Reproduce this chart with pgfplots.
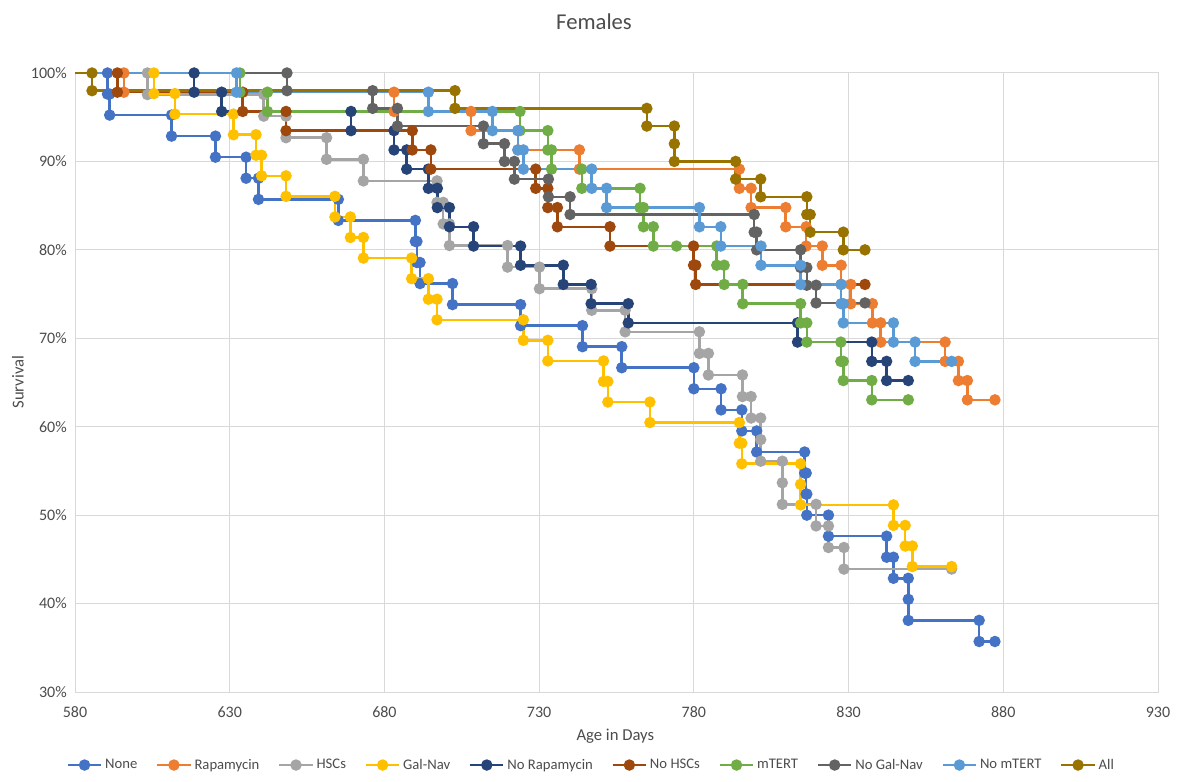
\documentclass[border=0pt]{standalone}
\usepackage{fontspec}
\setmainfont{Carlito}
\usepackage{pgfplots}
\pgfplotsset{compat=1.18}
\definecolor{cNone}{HTML}{4472C4}
\definecolor{cRapa}{HTML}{ED7D31}
\definecolor{cHSC}{HTML}{A5A5A5}
\definecolor{cGal}{HTML}{FFC000}
\definecolor{cNoRapa}{HTML}{264478}
\definecolor{cNoHSC}{HTML}{9E480E}
\definecolor{cTERT}{HTML}{70AD47}
\definecolor{cNoGal}{HTML}{636363}
\definecolor{cNoTERT}{HTML}{5B9BD5}
\definecolor{cAll}{HTML}{997300}
\definecolor{gridc}{HTML}{D9D9D9}
\begin{document}
\begin{tikzpicture}
\useasboundingbox (0bp,0bp) rectangle (900bp,586.5bp);
\node[font=\fontsize{17bp}{20bp}\selectfont, text=black!70] at (445.5bp,570bp) {Females};
\node[font=\fontsize{12.5bp}{15bp}\selectfont, text=black!70] at (461.5bp,34.5bp) {Age in Days};
\node[font=\fontsize{12.5bp}{15bp}\selectfont, text=black!70, rotate=90] at (13.5bp,300bp) {Survival};
\begin{axis}[
  at={(56.25bp,67.5bp)}, anchor=south west,
  scale only axis, width=812.25bp, height=464.25bp,
  xmin=580, xmax=930, ymin=30, ymax=100,
  clip=false,
  xtick={580,630,...,930}, ytick={30,40,...,100},
  /pgf/number format/assume math mode=true,
  xticklabel={\pgfmathprintnumber[fixed,precision=0]{\tick}},
  yticklabel={\pgfmathprintnumber[fixed,precision=0]{\tick}\%},
  ticklabel style={font=\fontsize{12bp}{14bp}\selectfont, text=black!70},
  yticklabel style={anchor=east, inner sep=0pt, xshift=-6bp},
  xticklabel style={anchor=north, inner sep=0pt, yshift=-11bp},
  grid=major, grid style={draw=gridc, line width=0.75bp},
  axis line style={draw=gridc, line width=0.75bp},
  major tick length=0pt,
  every axis plot/.append style={line width=1.9bp, mark=*, mark size=3.3bp, mark repeat=1, mark phase=2},
  legend columns=10,
  legend style={at={(axis description cs:0.477,-0.118)}, anchor=center, draw=none, fill=none,
    font=\fontsize{11bp}{13bp}\selectfont, text=black!70,
    /tikz/every even column/.append style={column sep=12bp}},
  legend cell align=left,
  legend image code/.code={\draw[#1, mark repeat=2, mark phase=2] plot coordinates {(0bp,0bp) (12.5bp,0bp) (25bp,0bp)};},
]
% None
\addplot[color=cNone] coordinates {(580,100)(590.5,100)(590.5,97.62)(591.2,97.62)(591.2,95.24)(611.2,95.24)(611.2,92.86)(625.4,92.86)(625.4,90.48)(635.3,90.48)(635.3,88.10)(639.3,88.10)(639.3,85.71)(665.1,85.71)(665.1,83.33)(690,83.33)(690,80.95)(690.5,80.95)(690.5,78.57)(691.5,78.57)(691.5,76.19)(702,76.19)(702,73.81)(724,73.81)(724,71.43)(744,71.43)(744,69.05)(756.7,69.05)(756.7,66.67)(780,66.67)(780,64.29)(788.8,64.29)(788.8,61.90)(795.5,61.90)(795.5,59.52)(800.3,59.52)(800.3,57.14)(815.8,57.14)(815.8,54.76)(816.3,54.76)(816.3,52.38)(816.5,52.38)(816.5,50.00)(823.5,50.00)(823.5,47.62)(842.3,47.62)(842.3,45.24)(844.5,45.24)(844.5,42.86)(849.3,42.86)(849.3,40.48)(849.3,38.10)(872.2,38.10)(872.2,35.71)(877.3,35.71)};
\addlegendentry{None}
% Rapamycin
\addplot[color=cRapa] coordinates {(580,100)(595.8,100)(595.8,97.83)(683.1,97.83)(683.1,95.65)(708,95.65)(708,93.48)(723.2,93.48)(723.2,91.30)(743,91.30)(743,89.13)(794.7,89.13)(794.7,86.96)(798.5,86.96)(798.5,84.78)(809.7,84.78)(809.7,82.61)(816.3,82.61)(816.3,80.43)(821.5,80.43)(821.5,78.26)(827.6,78.26)(827.6,76.09)(830.7,76.09)(830.7,73.91)(837.7,73.91)(837.7,71.74)(840.4,71.74)(840.4,69.57)(861.2,69.57)(861.2,67.39)(865.5,67.39)(865.5,65.22)(868.4,65.22)(868.4,63.04)(877.3,63.04)};
\addlegendentry{Rapamycin}
% HSCs
\addplot[color=cHSC] coordinates {(580,100)(603.4,100)(603.4,97.56)(641,97.56)(641,95.12)(648.2,95.12)(648.2,92.68)(661.3,92.68)(661.3,90.24)(673.2,90.24)(673.2,87.80)(697,87.80)(697,85.37)(699,85.37)(699,82.93)(701,82.93)(701,80.49)(719.8,80.49)(719.8,78.05)(730.1,78.05)(730.1,75.61)(747,75.61)(747,73.17)(757.8,73.17)(757.8,70.73)(781.8,70.73)(781.8,68.29)(784.7,68.29)(784.7,65.85)(795.7,65.85)(795.7,63.41)(798.5,63.41)(798.5,60.98)(801.6,60.98)(801.6,58.54)(801.6,56.10)(808.6,56.10)(808.6,53.66)(808.6,51.22)(819.5,51.22)(819.5,48.78)(823.5,48.78)(823.5,46.34)(828.5,46.34)(828.5,43.90)(863.3,43.90)};
\addlegendentry{HSCs}
% Gal-Nav
\addplot[color=cGal] coordinates {(580,100)(605.5,100)(605.5,97.67)(612.3,97.67)(612.3,95.35)(631.2,95.35)(631.2,93.02)(638.5,93.02)(638.5,90.70)(640.3,90.70)(640.3,88.37)(648.2,88.37)(648.2,86.05)(664,86.05)(664,83.72)(669,83.72)(669,81.40)(673.2,81.40)(673.2,79.07)(688.8,79.07)(688.8,76.74)(694.2,76.74)(694.2,74.42)(697,74.42)(697,72.09)(724.9,72.09)(724.9,69.77)(732.8,69.77)(732.8,67.44)(750.8,67.44)(750.8,65.12)(752.2,65.12)(752.2,62.79)(765.8,62.79)(765.8,60.47)(794.7,60.47)(794.7,58.14)(795.5,58.14)(795.5,55.81)(814.5,55.81)(814.5,53.49)(814.5,51.16)(844.5,51.16)(844.5,48.84)(848.3,48.84)(848.3,46.51)(850.6,46.51)(850.6,44.19)(863.3,44.19)};
\addlegendentry{Gal-Nav}
% No Rapamycin
\addplot[color=cNoRapa] coordinates {(580,100)(618.5,100)(618.5,97.83)(627.4,97.83)(627.4,95.65)(669.2,95.65)(669.2,93.48)(683.1,93.48)(683.1,91.30)(687.2,91.30)(687.2,89.13)(694.2,89.13)(694.2,86.96)(697.1,86.96)(697.1,84.78)(701,84.78)(701,82.61)(708.8,82.61)(708.8,80.43)(724,80.43)(724,78.26)(737.8,78.26)(737.8,76.09)(746.8,76.09)(746.8,73.91)(758.8,73.91)(758.8,71.74)(813.5,71.74)(813.5,69.57)(837.5,69.57)(837.5,67.39)(842.3,67.39)(842.3,65.22)(849.3,65.22)};
\addlegendentry{No Rapamycin}
% No HSCs
\addplot[color=cNoHSC] coordinates {(580,100)(593.7,100)(593.7,97.83)(634.2,97.83)(634.2,95.65)(648.2,95.65)(648.2,93.48)(689,93.48)(689,91.30)(695,91.30)(695,89.13)(728.9,89.13)(728.9,86.96)(732.8,86.96)(732.8,84.78)(735.9,84.78)(735.9,82.61)(752.9,82.61)(752.9,80.43)(779.9,80.43)(779.9,78.26)(780.6,78.26)(780.6,76.09)(835.3,76.09)};
\addlegendentry{No HSCs}
% mTERT
\addplot[color=cTERT] coordinates {(580,100)(633.3,100)(633.3,97.83)(642.2,97.83)(642.2,95.65)(723.8,95.65)(723.8,93.48)(732.8,93.48)(732.8,91.30)(734,91.30)(734,89.13)(743.8,89.13)(743.8,86.96)(762.6,86.96)(762.6,84.78)(763.7,84.78)(763.7,82.61)(766.9,82.61)(766.9,80.43)(774.4,80.43)(787.4,80.43)(787.4,78.26)(789.8,78.26)(789.8,76.09)(795.8,76.09)(795.8,73.91)(814.5,73.91)(814.5,71.74)(816.5,71.74)(816.5,69.57)(827.5,69.57)(827.5,67.39)(828.3,67.39)(828.3,65.22)(837.5,65.22)(837.5,63.04)(849.3,63.04)};
\addlegendentry{mTERT}
% No Gal-Nav
\addplot[color=cNoGal] coordinates {(580,100)(648.5,100)(648.5,98)(676.2,98)(676.2,96)(684.2,96)(684.2,94)(712,94)(712,92)(718.8,92)(718.8,90)(722,90)(722,88)(733,88)(733,86)(740,86)(740,84)(799.5,84)(799.5,82)(800.3,82)(800.3,80)(814.5,80)(814.5,78)(816.5,78)(816.5,76)(819.5,76)(819.5,74)(835.3,74)};
\addlegendentry{No Gal-Nav}
% No mTERT
\addplot[color=cNoTERT] coordinates {(580,100)(632.2,100)(632.2,97.83)(694.2,97.83)(694.2,95.65)(714.9,95.65)(714.9,93.48)(723.1,93.48)(723.1,91.30)(724.9,91.30)(724.9,89.13)(747,89.13)(747,86.96)(751.8,86.96)(751.8,84.78)(781.8,84.78)(781.8,82.61)(788.7,82.61)(788.7,80.43)(801.7,80.43)(801.7,78.26)(814.5,78.26)(814.5,76.09)(827.6,76.09)(827.6,73.91)(828.3,73.91)(828.3,71.74)(844.5,71.74)(844.5,69.57)(851.5,69.57)(851.5,67.39)(863.3,67.39)};
\addlegendentry{No mTERT}
% All
\addplot[color=cAll] coordinates {(580,100)(585.5,100)(585.5,98)(702.8,98)(702.8,96)(764.8,96)(764.8,94)(773.7,94)(773.7,92)(773.7,90)(793.5,90)(793.5,88)(801.6,88)(801.6,86)(816.5,86)(816.5,84)(817.6,84)(817.6,82)(828.3,82)(828.3,80)(835.3,80)};
\addlegendentry{All}
\end{axis}
\end{tikzpicture}
\end{document}
